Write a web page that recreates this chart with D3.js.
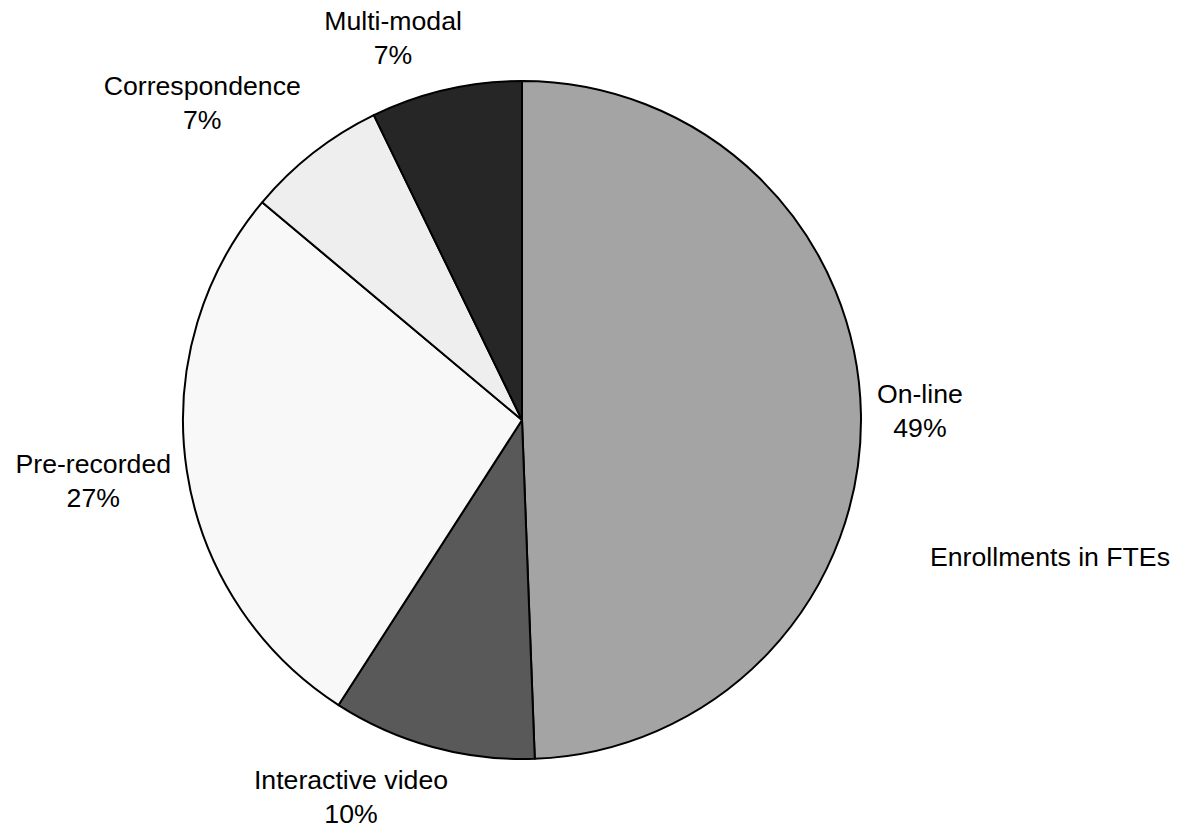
<!DOCTYPE html>
<html>
<head>
<meta charset="utf-8">
<script src="https://cdn.jsdelivr.net/npm/d3@7"></script>
<style>
  body { margin: 0; background: #fff; }
  text { font-family: "Liberation Sans", Arial, sans-serif; fill: #000; }
</style>
</head>
<body>
<svg id="viz"></svg>
<script>
// enrollment share by delivery mode (percent of FTEs)
const modes = ["On-line", "Interactive video", "Pre-recorded", "Correspondence", "Multi-modal"];
const shares = [49.4, 9.7, 27.0, 6.7, 7.2];
const fills = ["#a4a4a4", "#595959", "#f8f8f8", "#eeeeee", "#262626"];
const title = "Enrollments in FTEs";

const app = {
    init() {
        const data = modes.map((m, i) => ({ mode: m, share: shares[i], fill: fills[i] }));
        this.createGraph(data);
    },

    createGraph(data) {
        const width = 1181;
        const height = 830;
        const cx = 522, cy = 420, radius = 339;
        const fontSize = 26.67;

        // label placement: angle shift (deg) from slice middle, distance from centre
        const labelNudge = [[-0.2, 398], [9.1, 414], [0.6, 433], [-7.3, 450], [-5.7, 403]];

        this.svg = d3.select("#viz").attr("width", width).attr("height", height);

        const pie = d3.pie().value(d => d.share).sort(null);
        const arc = d3.arc().innerRadius(0).outerRadius(radius);
        const arcs = pie(data);

        const g = this.svg.append("g").attr("transform", `translate(${cx}, ${cy})`);

        g.selectAll("path").data(arcs).enter().append("path")
            .attr("d", arc)
            .attr("fill", d => d.data.fill)
            .attr("stroke", "#000")
            .attr("stroke-width", 2)
            .attr("stroke-linejoin", "round");

        const total = d3.sum(shares);
        const labels = g.selectAll("text.lbl").data(arcs).enter().append("text")
            .attr("class", "lbl")
            .attr("text-anchor", "middle")
            .style("font-size", fontSize + "px")
            .attr("transform", (d, i) => {
                const mid = (d.startAngle + d.endAngle) / 2 + labelNudge[i][0] * Math.PI / 180;
                const [x, y] = d3.pointRadial(mid, labelNudge[i][1]);
                return `translate(${x}, ${y})`;
            });
        labels.append("tspan").attr("x", 0).attr("y", -8).text(d => d.data.mode);
        labels.append("tspan").attr("x", 0).attr("y", 26).text(d => Math.round(d.data.share / total * 100) + "%");

        this.svg.append("text").attr("x", 930).attr("y", 566)
            .style("font-size", fontSize + "px").text(title);
    }
}

window.addEventListener("DOMContentLoaded", () => app.init())
</script>
</body>
</html>
